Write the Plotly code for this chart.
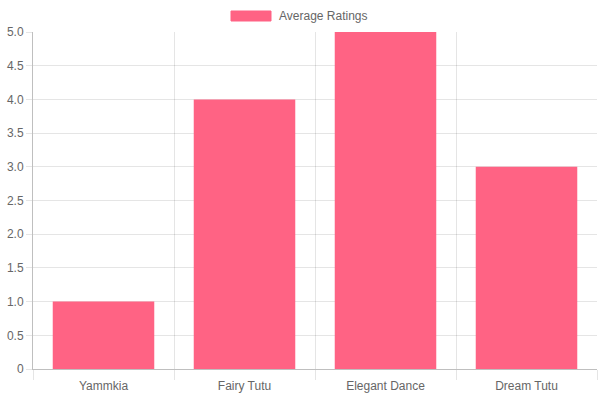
import plotly.graph_objects as go

categories = ["Yammkia", "Fairy Tutu", "Elegant Dance", "Dream Tutu"]
ratings = [1, 4, 5, 3]
series_name = "Average Ratings"
y_ticks = [0, 0.5, 1, 1.5, 2, 2.5, 3, 3.5, 4, 4.5, 5]
y_tick_text = ["0", "0.5", "1.0", "1.5", "2.0", "2.5", "3.0", "3.5", "4.0", "4.5", "5.0"]

bar_color = "rgb(255,99,132)"
font = dict(family="Liberation Sans, Arial, sans-serif", size=12, color="#666")
grid = "rgba(0,0,0,0.1)"
axis_line = "rgba(0,0,0,0.25)"

fig = go.Figure()
fig.add_trace(go.Bar(x=categories, y=ratings, name=series_name,
                     marker=dict(color=bar_color, line=dict(width=0)),
                     width=0.72, showlegend=False))

fig.update_layout(
    width=600, height=400,
    margin=dict(l=33, r=3, t=32, b=31),
    paper_bgcolor="white", plot_bgcolor="white",
    font=font,
    xaxis=dict(type="category", tickson="boundaries", showgrid=True, gridcolor=grid,
               ticks="outside", ticklen=10, tickcolor=grid, showline=True,
               linecolor=axis_line, mirror=False, zeroline=False,
               ticklabelstandoff=6),
    yaxis=dict(range=[0, 5], tickvals=y_ticks, ticktext=y_tick_text, showgrid=True,
               gridcolor=grid, ticks="outside", ticklen=6, tickcolor=grid,
               showline=True, linecolor=axis_line, zeroline=False),
)

# Chart.js-style legend: wide colored box + label
fig.add_shape(type="rect", xref="paper", yref="paper",
              x0=(231 - 33) / 564, x1=(271 - 33) / 564,
              y0=(369 - 21) / 337, y1=(369 - 11) / 337,
              fillcolor=bar_color, line=dict(width=1, color=bar_color))
fig.add_annotation(xref="paper", yref="paper", x=(277 - 33) / 564, y=(369 - 16) / 337,
                   text=series_name, showarrow=False, xanchor="left", yanchor="middle",
                   font=font)

fig.write_html("out.html")
